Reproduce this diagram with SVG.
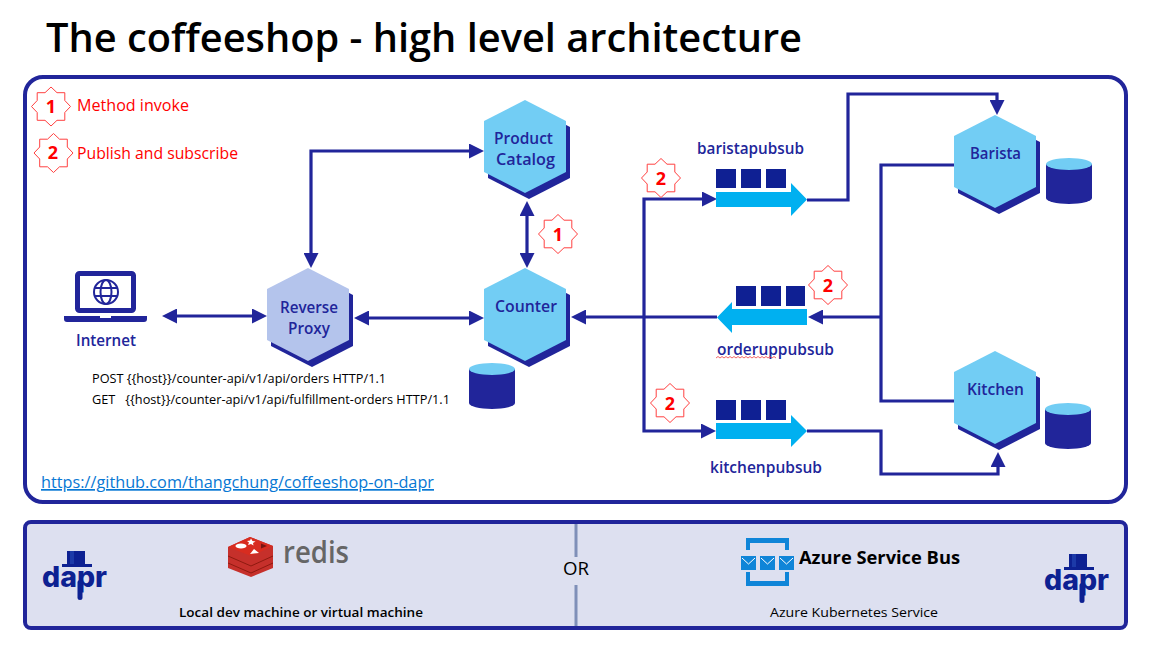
<svg xmlns="http://www.w3.org/2000/svg" width="1153" height="647" viewBox="0 0 1153 647">
<style>
text{font-family:"Open Sans","Noto Sans","Liberation Sans",sans-serif}
.title{font-size:40px;font-weight:600;fill:#000}
.lbl{font-size:17px;font-weight:600;fill:#21259a;text-anchor:start}
.legend{font-size:17px;fill:#f00}
.num{font-size:18px;font-weight:700;fill:#f00;text-anchor:middle}
.req{font-size:13px;fill:#000;white-space:pre}
.foot{font-size:13px;fill:#000;font-weight:500}
.link{font-size:17px;fill:#0878d4;text-decoration:underline}
.conn{fill:none;stroke:#21259a;stroke-width:3.2;stroke-linejoin:miter}
.hexshadow{fill:#21259a}
.hex{fill:#72cdf4}
.hexalt{fill:#b4c4ec}
.star{fill:#fff;stroke:#ff4040;stroke-width:1}
.cyl{fill:#21259a}
.cyltop{fill:#72cdf4}
.sq{fill:#0f2093}
.qa{fill:#00b0f0}
.az{fill:#0f85d8}
.daprc{fill:#0d2192}
</style>
<defs>
<marker id="ah" viewBox="0 0 15 15" refX="7" refY="7.5" markerWidth="15" markerHeight="15" markerUnits="userSpaceOnUse" orient="auto-start-reverse"><path d="M0 0L15 7.5L0 15z" fill="#21259a"/></marker>
<polygon id="star" class="star" points="0,-19.5 6,-13.8 13.8,-13.8 13.8,-6 19.5,0 13.8,6 13.8,13.8 6,13.8 0,19.5 -6,13.8 -13.8,13.8 -13.8,6 -19.5,0 -13.8,-6 -13.8,-13.8 -6,-13.8"/>
<polygon id="hexs" points="0,0 41,21 41,72 0,93 -41,72 -41,21"/>
<g id="cylinder">
<path class="cyl" d="M0 6V40A23 6 0 0 0 46 40V6z"/>
<ellipse class="cyltop" cx="23" cy="6" rx="23" ry="6"/>
</g>
<g id="daprlogo">
<rect class="daprc" x="67" y="551" width="18" height="13"/>
<rect x="70" y="551" width="4" height="13" fill="#1c3aa8"/>
<rect class="daprc" x="62" y="564" width="30" height="3"/>
<text x="42" y="587" font-size="28" font-weight="800" fill="#0d2192" style="font-family:Inter,'Open Sans',sans-serif" textLength="65" lengthAdjust="spacingAndGlyphs">dapr</text>
<rect class="daprc" x="77.500" y="580" width="5" height="20" rx="2.500"/>
</g>
</defs>
<rect width="1153" height="647" fill="#fff"/>
<text class="title" x="46" y="52" textLength="756" lengthAdjust="spacingAndGlyphs">The coffeeshop - high level architecture</text>
<rect id="main-frame" x="25" y="77" width="1101" height="425" rx="18" fill="#fff" stroke="#21259a" stroke-width="4"/>
<rect id="infra-frame" x="25" y="522" width="1101" height="106" rx="6" fill="#dde0f0" stroke="#21259a" stroke-width="4"/>

<g id="connectors">
<path class="conn" d="M311 260V151H476" marker-start="url(#ah)" marker-end="url(#ah)"/>
<path class="conn" d="M527 209V260" marker-start="url(#ah)" marker-end="url(#ah)"/>
<path class="conn" d="M170 316H259" marker-start="url(#ah)" marker-end="url(#ah)"/>
<path class="conn" d="M362 318H476" marker-start="url(#ah)" marker-end="url(#ah)"/>
<path class="conn" d="M717 317H579" marker-end="url(#ah)"/>
<path class="conn" d="M709 199H644V431H708" marker-start="url(#ah)" marker-end="url(#ah)"/>
<path class="conn" d="M807 200H848V94H997V107" marker-end="url(#ah)"/>
<path class="conn" d="M954 165H881V401H954"/>
<path class="conn" d="M881 317H816" marker-end="url(#ah)"/>
<path class="conn" d="M807 431H881V474H998V460" marker-end="url(#ah)"/>
</g>

<g id="legend">
<use href="#star" transform="translate(51,106.500)"/>
<text class="num" x="51" y="113">1</text>
<text class="legend" x="77" y="111" textLength="112" lengthAdjust="spacingAndGlyphs">Method invoke</text>
<use href="#star" transform="translate(53.500,153)"/>
<text class="num" x="53" y="159">2</text>
<text class="legend" x="77" y="159" textLength="161" lengthAdjust="spacingAndGlyphs">Publish and subscribe</text>
</g>

<g id="internet">
<rect x="77.500" y="273.500" width="56" height="37" rx="2" fill="#fff" stroke="#21259a" stroke-width="5"/>
<path d="M64 316H147V319Q147 322 144 322H67Q64 322 64 319z" fill="#21259a"/>
<rect x="100" y="316" width="11" height="2" fill="#fff"/>
<g fill="none" stroke="#21259a" stroke-width="2">
<circle cx="106" cy="292" r="12"/>
<ellipse cx="106" cy="292" rx="5.500" ry="12"/>
<path d="M94.500 288H117.500M94.500 296H117.500"/>
</g>
<text class="lbl" x="76" y="346" textLength="60" lengthAdjust="spacingAndGlyphs">Internet</text>
</g>

<g id="reverse-proxy">
<use href="#hexs" class="hexshadow" transform="translate(312,274)"/>
<use href="#hexs" class="hexalt" transform="translate(308,268)"/>
<text class="lbl" x="280" y="313" textLength="58" lengthAdjust="spacingAndGlyphs">Reverse</text>
<text class="lbl" x="288" y="334" textLength="42" lengthAdjust="spacingAndGlyphs">Proxy</text>
</g>

<g id="product-catalog">
<use href="#hexs" class="hexshadow" transform="translate(529,106)"/>
<use href="#hexs" class="hex" transform="translate(525,100)"/>
<text class="lbl" x="494" y="144" textLength="59" lengthAdjust="spacingAndGlyphs">Product</text>
<text class="lbl" x="496" y="165" textLength="59" lengthAdjust="spacingAndGlyphs">Catalog</text>
</g>

<g id="counter">
<use href="#hexs" class="hexshadow" transform="translate(529,274)"/>
<use href="#hexs" class="hex" transform="translate(525,268)"/>
<text class="lbl" x="495" y="312" textLength="62" lengthAdjust="spacingAndGlyphs">Counter</text>
<use href="#cylinder" x="469" y="363"/>
</g>

<g id="barista">
<use href="#hexs" class="hexshadow" transform="translate(999,121)"/>
<use href="#hexs" class="hex" transform="translate(995,115)"/>
<text class="lbl" x="970" y="159" textLength="51" lengthAdjust="spacingAndGlyphs">Barista</text>
<use href="#cylinder" x="1046" y="158"/>
</g>

<g id="kitchen">
<use href="#hexs" class="hexshadow" transform="translate(999,357)"/>
<use href="#hexs" class="hex" transform="translate(995,351)"/>
<text class="lbl" x="967" y="395" textLength="57" lengthAdjust="spacingAndGlyphs">Kitchen</text>
<use href="#cylinder" x="1045" y="403"/>
</g>

<g id="baristapubsub">
<rect class="sq" x="716" y="169" width="20" height="19"/>
<rect class="sq" x="741" y="169" width="20" height="19"/>
<rect class="sq" x="766" y="169" width="20" height="19"/>
<polygon class="qa" points="716,192 791,192 791,183 807,199.500 791,216 791,207 716,207"/>
<text class="lbl" x="697" y="154" textLength="107" lengthAdjust="spacingAndGlyphs">baristapubsub</text>
</g>

<g id="orderuppubsub">
<rect class="sq" x="736" y="286" width="20" height="20"/>
<rect class="sq" x="761" y="286" width="20" height="20"/>
<rect class="sq" x="786" y="286" width="19" height="20"/>
<polygon class="qa" points="807,309 732,309 732,302 717,317.500 732,333 732,325 807,325"/>
<text class="lbl" x="717" y="355" textLength="117" lengthAdjust="spacingAndGlyphs">orderuppubsub</text>
<path d="M716 358l2 -1.500l2 1.500l2 -1.500l2 1.500l2 -1.500l2 1.500l2 -1.500l2 1.500l2 -1.500l2 1.500l2 -1.500l2 1.500l2 -1.500l2 1.500l2 -1.500l2 1.500l2 -1.500l2 1.500l2 -1.500l2 1.500l2 -1.500l2 1.500l2 -1.500l2 1.500l2 -1.500l2 1.500l2 -1.500l2 1.500l2 -1.500l2 1.500" fill="none" stroke="#f04040" stroke-width="0.8"/>
</g>

<g id="kitchenpubsub">
<rect class="sq" x="716" y="400" width="20" height="20"/>
<rect class="sq" x="741" y="400" width="20" height="20"/>
<rect class="sq" x="766" y="400" width="20" height="20"/>
<polygon class="qa" points="716,423 791,423 791,415 807,431 791,447 791,439 716,439"/>
<text class="lbl" x="710" y="473" textLength="112" lengthAdjust="spacingAndGlyphs">kitchenpubsub</text>
</g>

<g id="badges">
<use href="#star" transform="translate(558,234)"/>
<text class="num" x="558" y="240.500">1</text>
<use href="#star" transform="translate(661,178)"/>
<text class="num" x="661" y="184.500">2</text>
<use href="#star" transform="translate(828,285)"/>
<text class="num" x="828" y="291.500">2</text>
<use href="#star" transform="translate(670,403)"/>
<text class="num" x="670" y="409.500">2</text>
</g>

<g id="requests">
<text class="req" x="92" y="383" textLength="294" lengthAdjust="spacingAndGlyphs">POST {{host}}/counter-api/v1/api/orders HTTP/1.1</text>
<text class="req" x="92" y="404" textLength="358" lengthAdjust="spacingAndGlyphs">GET   {{host}}/counter-api/v1/api/fulfillment-orders HTTP/1.1</text>
</g>

<text id="repo-link" class="link" x="41" y="488" textLength="393" lengthAdjust="spacingAndGlyphs">https://github.com/thangchung/coffeeshop-on-dapr</text>

<g id="local-infra">
<use href="#daprlogo"/>
<g id="redis-logo">
<path d="M228 547L250 537L273 546V568L251 577L228 568z" fill="#c6302b"/>
<path d="M228 556L251 566L273 556M228 563L251 573L273 563" fill="none" stroke="#8f1a10" stroke-width="1"/>
<path d="M228 547L250 537L273 546L251 556z" fill="#d82c20"/>
<ellipse cx="241" cy="546" rx="5.500" ry="2.500" fill="#fff"/>
<path d="M251 538.500l1.500 2.500l3 .5l-2.500 1.500l.5 2.500l-2.500 -1.500l-3 1l1 -2.500l-2 -1.500l3 -.5z" fill="#fff"/>
<path d="M254 549l5 4l-9 1z" fill="#fff"/>
<path d="M261 543.500l6 2.500l-6 2.500z" fill="#7a1512"/>
</g>
<text x="283" y="563" font-size="30" font-weight="600" fill="#666" textLength="66" lengthAdjust="spacingAndGlyphs">redis</text>
<text class="foot" style="font-weight:600" x="179" y="617" textLength="244" lengthAdjust="spacingAndGlyphs">Local dev machine or virtual machine</text>
</g>

<g id="or-divider">
<path d="M576 524V557M576 585V626" stroke="#7f8fb8" stroke-width="3" fill="none"/>
<text x="563" y="575" font-size="18" fill="#000" textLength="26" lengthAdjust="spacingAndGlyphs">OR</text>
</g>

<g id="cloud-infra">
<path class="az" d="M746 550V538H789V550H785V543H750V550z"/>
<path class="az" d="M746 572V586H789V572H785V581H750V572z"/>
<g>
<rect class="az" x="741" y="556" width="15" height="14"/>
<rect class="az" x="760" y="556" width="15" height="14"/>
<rect class="az" x="779" y="556" width="15" height="14"/>
<path d="M742 558l6.500 6l6.500 -6M761 558l6.500 6l6.500 -6M780 558l6.500 6l6.500 -6" fill="none" stroke="#fff" stroke-width="1"/>
</g>
<text x="799" y="564" font-size="18" font-weight="700" fill="#000" textLength="161" lengthAdjust="spacingAndGlyphs">Azure Service Bus</text>
<text class="foot" x="770" y="617" textLength="168" lengthAdjust="spacingAndGlyphs">Azure Kubernetes Service</text>
<use href="#daprlogo" transform="translate(1002,3)"/>
</g>
</svg>
